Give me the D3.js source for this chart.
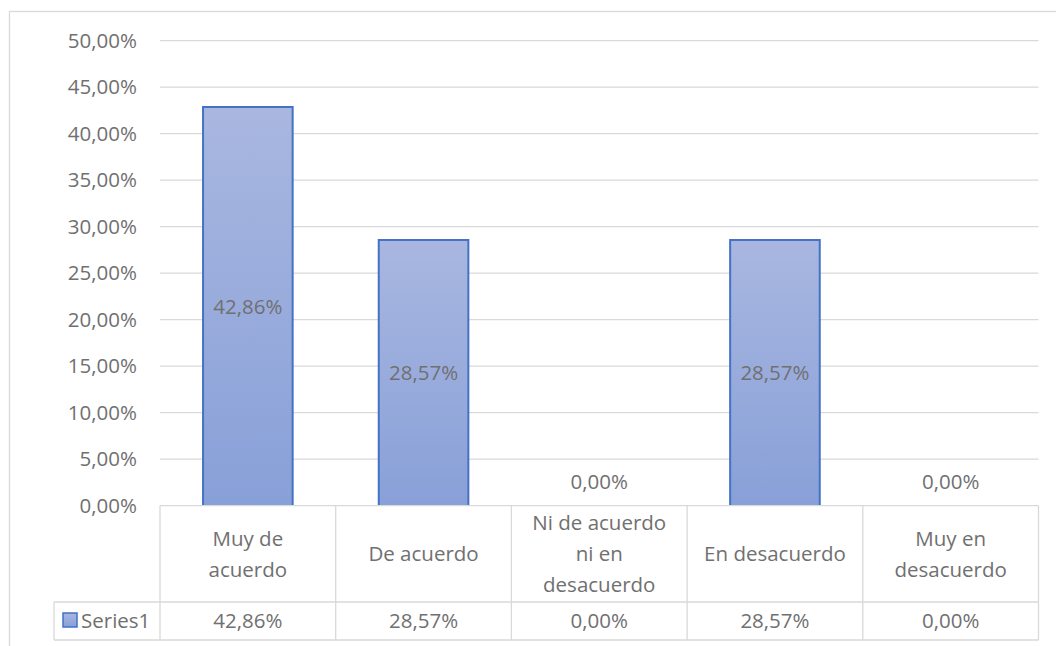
<!DOCTYPE html>
<html>
<head>
<meta charset="utf-8">
<script src="https://cdn.jsdelivr.net/npm/d3@7"></script>
<style>
  html, body { margin: 0; padding: 0; background: #ffffff; }
  svg { display: block; }
  text { font-family: "Open Sans", "Noto Sans", sans-serif; fill: #707070; }
</style>
</head>
<body>
<svg id="chart" width="1056" height="646"></svg>
<script>
// Survey responses (share of respondents)
const categories = ["Muy de acuerdo", "De acuerdo", "Ni de acuerdo ni en desacuerdo", "En desacuerdo", "Muy en desacuerdo"];
const categoryLines = [["Muy de", "acuerdo"], ["De acuerdo"], ["Ni de acuerdo", "ni en", "desacuerdo"], ["En desacuerdo"], ["Muy en", "desacuerdo"]];
const seriesName = "Series1";
const values = [0.4286, 0.2857, 0.0, 0.2857, 0.0];
const yTicks = [0, 0.05, 0.10, 0.15, 0.20, 0.25, 0.30, 0.35, 0.40, 0.45, 0.50];

const locale = d3.formatLocale({ decimal: ",", thousands: ".", grouping: [3], currency: ["", "€"] });
const pct = locale.format(".2%");

const svg = d3.select("#chart");
const gridColor = "#d9d9d9";
const fontSize = 20.5;

const plot = { left: 160, right: 1038.5, top: 40.7, bottom: 505.7 };
const tableBottom = 640;
const headerBottom = 602;
const legendLeft = 54;

// Chart frame
svg.append("rect")
  .attr("x", 9.5).attr("y", 11.5)
  .attr("width", 1100).attr("height", 700)
  .attr("fill", "none").attr("stroke", gridColor).attr("stroke-width", 1.3);

const x = d3.scaleBand().domain(categories).range([plot.left, plot.right])
  .paddingInner(0.49).paddingOuter(0.245);
const y = d3.scaleLinear().domain([0, 0.5]).range([plot.bottom, plot.top]);
const step = x.step();
const colLeft = i => plot.left + i * step;

// Bar gradient
const defs = svg.append("defs");
const grad = defs.append("linearGradient").attr("id", "barFill")
  .attr("x1", 0).attr("y1", 0).attr("x2", 0).attr("y2", 1);
grad.append("stop").attr("offset", "0%").attr("stop-color", "#a9b7e0");
grad.append("stop").attr("offset", "100%").attr("stop-color", "#88a0d8");

// Horizontal gridlines
svg.append("g").selectAll("line").data(yTicks.filter(t => t > 0)).join("line")
  .attr("x1", plot.left).attr("x2", plot.right)
  .attr("y1", d => y(d)).attr("y2", d => y(d))
  .attr("stroke", gridColor).attr("stroke-width", 1.3);

// Y axis labels
const yAxis = d3.axisLeft(y).tickValues(yTicks).tickFormat(pct).tickSize(0).tickPadding(0);
const yg = svg.append("g").attr("transform", `translate(137,0)`).call(yAxis);
yg.select(".domain").remove();
yg.selectAll("text").attr("font-size", fontSize).attr("fill", "#707070")
  .style("font-family", '"Open Sans", "Noto Sans", sans-serif');

// Bars
svg.append("g").selectAll("path").data(values).join("path")
  .attr("d", (d, i) => {
    if (d <= 0) return null;
    const x0 = x(categories[i]), x1 = x0 + x.bandwidth();
    return `M${x0},${y(0)}V${y(d)}H${x1}V${y(0)}`;
  })
  .attr("fill", "url(#barFill)")
  .attr("stroke", "#4472c4").attr("stroke-width", 2);

// Data labels
svg.append("g").selectAll("text").data(values).join("text")
  .attr("x", (d, i) => x(categories[i]) + x.bandwidth() / 2)
  .attr("y", d => d > 0 ? (y(d) + y(0)) / 2 : y(0) - 24)
  .attr("dy", "0.35em")
  .attr("text-anchor", "middle")
  .attr("font-size", fontSize)
  .text(d => pct(d));

// Data table grid
const table = svg.append("g").attr("stroke", gridColor).attr("stroke-width", 1.3);
table.append("line").attr("x1", plot.left).attr("x2", plot.right).attr("y1", plot.bottom).attr("y2", plot.bottom);
table.append("line").attr("x1", legendLeft).attr("x2", plot.right).attr("y1", headerBottom).attr("y2", headerBottom);
table.append("line").attr("x1", legendLeft).attr("x2", plot.right).attr("y1", tableBottom).attr("y2", tableBottom);
table.append("line").attr("x1", legendLeft).attr("x2", legendLeft).attr("y1", headerBottom).attr("y2", tableBottom);
table.selectAll(".col").data(d3.range(categories.length + 1)).join("line")
  .attr("x1", colLeft).attr("x2", colLeft)
  .attr("y1", plot.bottom).attr("y2", tableBottom);

// Category header cells
const lineH = 31;
const headerMid = (plot.bottom + headerBottom) / 2;
svg.append("g").selectAll("text").data(categories).join("text")
  .attr("text-anchor", "middle")
  .attr("font-size", fontSize)
  .each(function (c, i) {
    const lines = categoryLines[i];
    const cx = x(c) + x.bandwidth() / 2;
    d3.select(this).selectAll("tspan").data(lines).join("tspan")
      .attr("x", cx)
      .attr("y", (l, j) => headerMid + (j - (lines.length - 1) / 2) * lineH)
      .attr("dy", "0.35em")
      .text(l => l);
  });

// Value row
const rowMid = (headerBottom + tableBottom) / 2;
svg.append("g").selectAll("text").data(values).join("text")
  .attr("x", (d, i) => x(categories[i]) + x.bandwidth() / 2)
  .attr("y", rowMid).attr("dy", "0.35em")
  .attr("text-anchor", "middle")
  .attr("font-size", fontSize)
  .text(d => pct(d));

// Legend key in the table
svg.append("rect")
  .attr("x", 63).attr("y", 613).attr("width", 14).attr("height", 14)
  .attr("fill", "url(#barFill)").attr("stroke", "#4472c4").attr("stroke-width", 1.5);
svg.append("text")
  .attr("x", 81).attr("y", rowMid).attr("dy", "0.35em")
  .attr("font-size", fontSize)
  .text(seriesName);
</script>
</body>
</html>
